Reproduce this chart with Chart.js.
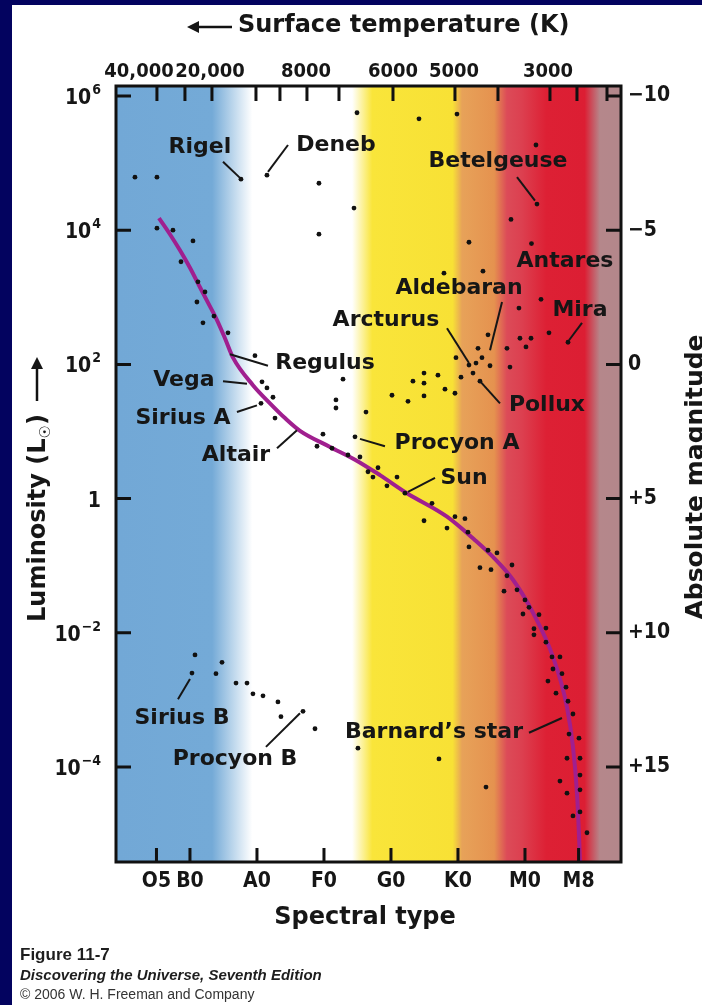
<!DOCTYPE html>
<html>
<head>
<meta charset="utf-8">
<script src="https://cdn.jsdelivr.net/npm/chart.js@4.4.1/dist/chart.umd.min.js"></script>
<style>
html, body { margin: 0; padding: 0; background: #03035f; }
canvas { display: block; }
</style>
</head>
<body>
<canvas id="hr" width="702" height="1005"></canvas>
<script>
// eje inferior: tipo espectral (0 = O0, 10 = B0, 20 = A0 ...)
const spectralTypes = ['O5', 'B0', 'A0', 'F0', 'G0', 'K0', 'M0', 'M8'];
const spectralPos = [5, 10, 20, 30, 40, 50, 60, 68];

// eje superior: temperatura superficial
const tempTickPos = [5.07, 9.25, 13.28, 19.85, 23.43, 27.46, 32.24, 40.3, 49.55, 55.97, 63.73, 67.76, 72.24];
const tempLabels = ['40,000', '20,000', '8000', '6000', '5000', '3000'];
const tempLabelPos = [2.39, 12.99, 27.31, 40.3, 49.4, 63.43];

// ejes verticales
const lumTicks = [6, 4, 2, 0, -2, -4];          // log10 L
const magTicks = [-10, -5, 0, 5, 10, 15];
const magLabels = ['\u221210', '\u22125', '0', '+5', '+10', '+15'];

// secuencia principal (tipo espectral, log L)
const msSpec = [5.37, 7.01, 8.51, 10, 11.49, 12.69, 14.03, 15.22, 16.42, 19.4, 21.94, 24.18, 26.42, 30.9, 34.63, 38.36, 42.39, 48.36, 52.54, 55.22, 58.21, 61.19, 64.18, 66.27, 67.16, 67.76, 68.13, 68.21];
const msLogL = [4.18, 3.94, 3.7, 3.44, 3.15, 2.92, 2.66, 2.39, 2.1, 1.69, 1.42, 1.2, 1.01, 0.77, 0.58, 0.35, 0.08, -0.27, -0.62, -0.87, -1.21, -1.7, -2.36, -3.11, -3.7, -4.39, -5.19, -5.42];

// estrellas (tipo espectral, log L)
const starSpec = [
  1.79, 5.07, 17.61, 21.49, 5.07, 7.46, 10.45, 8.66, 11.19, 12.24, 11.04, 13.58, 11.94, 15.67, 19.7,
  20.75, 21.49, 22.39, 20.6, 22.69,
  34.93, 44.18, 49.85, 29.25, 34.48, 29.25, 61.64, 61.79, 57.91, 51.64, 60.97, 47.91, 53.73,
  44.93, 47.01, 43.28, 44.93, 40.15, 42.54, 44.93, 48.06, 49.55, 50.45, 52.24, 53.28, 54.78, 57.76,
  51.64, 49.7, 52.69, 53.58, 54.48, 52.99, 57.31, 59.25, 60.9, 60.15, 63.58, 66.42, 59.1, 62.39,
  32.84, 31.79, 31.79, 36.27, 34.63, 29.85, 28.96, 31.19, 33.58, 35.37, 36.57, 38.06, 37.31, 40.9, 39.4, 42.09,
  46.12, 44.93, 48.36, 49.55, 51.04, 51.49, 51.64, 54.48, 55.82, 53.28, 54.93, 58.06, 57.31, 56.87, 58.81,
  60.0, 60.6, 59.7, 62.09, 61.34, 63.13, 61.34, 63.13, 64.03, 65.22, 64.18, 65.52, 63.43, 66.12, 64.63,
  66.42, 67.16, 66.57, 68.06, 66.27, 68.21, 68.21, 65.22, 66.27, 68.21, 68.21, 67.16, 69.25,
  10.75, 14.78, 10.3, 13.88, 16.87, 18.51, 19.4, 20.9, 23.13, 26.87, 23.58, 28.66, 35.07, 47.16, 54.18
];
const starLogL = [
  4.79, 4.79, 4.76, 4.82, 4.03, 4.0, 3.84, 3.53, 3.23, 3.08, 2.93, 2.72, 2.62, 2.47, 2.13,
  1.74, 1.65, 1.51, 1.42, 1.2,
  5.75, 5.66, 5.73, 4.7, 4.33, 3.94, 5.27, 4.39, 4.16, 3.82, 3.8, 3.36, 3.39,
  1.87, 1.84, 1.75, 1.72, 1.54, 1.45, 1.53, 1.63, 1.57, 1.81, 1.87, 1.75, 1.98, 1.96,
  1.99, 2.1, 2.02, 2.1, 2.44, 2.24, 2.24, 2.39, 2.39, 2.26, 2.47, 2.33, 2.84, 2.97,
  1.78, 1.47, 1.35, 1.29, 0.92, 0.96, 0.78, 0.75, 0.65, 0.62, 0.4, 0.46, 0.32, 0.32, 0.19, 0.08,
  -0.07, -0.33, -0.44, -0.27, -0.3, -0.5, -0.72, -0.77, -0.81, -1.03, -1.06, -0.99, -1.15, -1.38, -1.36,
  -1.51, -1.62, -1.72, -1.73, -1.94, -1.93, -2.03, -2.14, -2.36, -2.36, -2.54, -2.61, -2.72, -2.81, -2.9,
  -3.02, -3.21, -3.51, -3.57, -3.87, -3.87, -4.12, -4.21, -4.39, -4.34, -4.67, -4.73, -4.98,
  -2.33, -2.44, -2.6, -2.61, -2.75, -2.75, -2.91, -2.94, -3.03, -3.17, -3.25, -3.43, -3.72, -3.88, -4.3
];

// nombres de estrellas: texto, posicion de la etiqueta y linea guia (en unidades de los ejes)
const etiquetas = [
  { texto: 'Rigel', en: [11.49, 5.24], guia: [[14.93, 5.02], [17.46, 4.78]] },
  { texto: 'Deneb', en: [31.79, 5.27], guia: [[21.64, 4.87], [24.63, 5.27]] },
  { texto: 'Betelgeuse', en: [55.97, 5.02], guia: [[58.81, 4.79], [61.49, 4.44]] },
  { texto: 'Antares', en: [65.97, 3.53] },
  { texto: 'Aldebaran', en: [50.15, 3.14], guia: [[56.57, 2.93], [54.78, 2.21]] },
  { texto: 'Arcturus', en: [39.25, 2.66], guia: [[48.36, 2.54], [51.64, 2.02]] },
  { texto: 'Mira', en: [68.21, 2.81], guia: [[68.51, 2.62], [66.57, 2.36]] },
  { texto: 'Regulus', en: [30.15, 2.02], guia: [[15.97, 2.15], [21.64, 1.98]] },
  { texto: 'Vega', en: [9.1, 1.77], guia: [[14.93, 1.75], [18.51, 1.71]] },
  { texto: 'Sirius A', en: [8.96, 1.2], guia: [[17.01, 1.29], [20.0, 1.39]] },
  { texto: 'Altair', en: [16.87, 0.65], guia: [[22.99, 0.75], [25.97, 1.02]] },
  { texto: 'Pollux', en: [63.28, 1.39], guia: [[53.28, 1.75], [56.27, 1.42]] },
  { texto: 'Procyon A', en: [49.85, 0.83], guia: [[35.37, 0.89], [39.1, 0.78]] },
  { texto: 'Sun', en: [50.9, 0.31], guia: [[42.54, 0.1], [46.57, 0.31]] },
  { texto: 'Sirius B', en: [8.81, -3.27], guia: [[10.0, -2.69], [8.21, -2.99]] },
  { texto: 'Procyon B', en: [16.72, -3.88], guia: [[21.34, -3.7], [26.42, -3.2]] },
  { texto: 'Barnard\u2019s star', en: [46.42, -3.49], guia: [[60.6, -3.49], [65.52, -3.27]] }
];

const fuenteEje = '"DejaVu Sans Condensed", "Liberation Sans Narrow", sans-serif';
const fuenteTexto = '"DejaVu Sans", sans-serif';
const tinta = '#161616';

// fondo azul de la diapositiva + bandas de color por tipo espectral
const fondo = {
  id: 'fondo',
  beforeDraw(chart) {
    const { ctx, chartArea: a, scales: { x } } = chart;
    ctx.save();
    ctx.fillStyle = '#03035f';
    ctx.fillRect(0, 0, chart.width, chart.height);
    ctx.fillStyle = '#ffffff';
    ctx.fillRect(12, 5, chart.width - 12, chart.height - 5);

    const g = ctx.createLinearGradient(a.left, 0, a.right, 0);
    const parada = (s, c) => {
      const f = (x.getPixelForValue(s) - a.left) / (a.right - a.left);
      g.addColorStop(Math.min(1, Math.max(0, f)), c);
    };
    parada(-1.04, '#72a8d6');
    parada(13.3, '#74aad7');
    parada(19.3, '#ffffff');
    parada(34.2, '#ffffff');
    parada(37.2, '#f9e53a');
    parada(49.2, '#f8e135');
    parada(50.6, '#e7a259');
    parada(55.4, '#e5924f');
    parada(57.3, '#dc4b58');
    parada(59.5, '#dc4050');
    parada(63.2, '#dd2034');
    parada(68.9, '#dc1e33');
    parada(71.2, '#b5878b');
    parada(74.33, '#b3878b');
    ctx.fillStyle = g;
    ctx.fillRect(a.left, a.top, a.width, a.height);
    ctx.restore();
  }
};

// marco, marcas, rotulos, nombres y pie
const marco = {
  id: 'marco',
  afterDatasetsDraw(chart) {
    const { ctx, chartArea: a, scales: { x, y, y2 } } = chart;
    const P = (s, l) => [x.getPixelForValue(s), y.getPixelForValue(l)];
    ctx.save();

    // nombres y lineas guia
    ctx.strokeStyle = tinta;
    ctx.fillStyle = tinta;
    ctx.lineWidth = 2;
    ctx.font = 'bold 22px ' + fuenteTexto;
    ctx.textAlign = 'center';
    ctx.textBaseline = 'middle';
    etiquetas.forEach(e => {
      if (e.guia) {
        const p1 = P(...e.guia[0]), p2 = P(...e.guia[1]);
        ctx.beginPath();
        ctx.moveTo(p1[0], p1[1]);
        ctx.lineTo(p2[0], p2[1]);
        ctx.stroke();
      }
      const p = P(...e.en);
      ctx.fillText(e.texto, p[0], p[1]);
    });

    // marco
    ctx.strokeStyle = '#111';
    ctx.lineWidth = 3;
    ctx.strokeRect(a.left, a.top, a.width, a.height);

    // marcas hacia dentro
    ctx.beginPath();
    spectralPos.forEach(s => { const p = x.getPixelForValue(s); ctx.moveTo(p, a.bottom); ctx.lineTo(p, a.bottom - 14); });
    tempTickPos.forEach(s => { const p = x.getPixelForValue(s); ctx.moveTo(p, a.top); ctx.lineTo(p, a.top + 15); });
    lumTicks.forEach(l => { const p = y.getPixelForValue(l); ctx.moveTo(a.left, p); ctx.lineTo(a.left + 15, p); });
    magTicks.forEach(m => { const p = y2.getPixelForValue(m); ctx.moveTo(a.right, p); ctx.lineTo(a.right - 15, p); });
    ctx.stroke();

    // rotulos de los ejes
    ctx.fillStyle = tinta;
    ctx.textBaseline = 'middle';
    ctx.textAlign = 'center';
    ctx.font = 'bold 21px ' + fuenteEje;
    spectralTypes.forEach((t, i) => ctx.fillText(t, x.getPixelForValue(spectralPos[i]), a.bottom + 20));
    ctx.font = 'bold 20px ' + fuenteEje;
    tempLabels.forEach((t, i) => ctx.fillText(t, x.getPixelForValue(tempLabelPos[i]), 72));

    ctx.font = 'bold 21px ' + fuenteEje;
    ctx.textAlign = 'left';
    magLabels.forEach((t, i) => ctx.fillText(t, a.right + 7, y2.getPixelForValue(magTicks[i])));

    // 10^n a la izquierda
    const derecha = a.left - 15;
    lumTicks.forEach(l => {
      const py = y.getPixelForValue(l);
      ctx.textBaseline = 'alphabetic';
      ctx.textAlign = 'right';
      if (l === 0) {
        ctx.font = 'bold 21px ' + fuenteEje;
        ctx.fillText('1', derecha, py + 8);
        return;
      }
      const exp = l < 0 ? '\u2212' + Math.abs(l) : String(l);
      ctx.font = 'bold 14px ' + fuenteEje;
      const we = ctx.measureText(exp).width;
      ctx.fillText(exp, derecha, py - 2);
      ctx.font = 'bold 21px ' + fuenteEje;
      ctx.fillText('10', derecha - we - 1, py + 8);
    });

    // titulos
    ctx.font = 'bold 24px ' + fuenteTexto;
    ctx.textAlign = 'center';
    ctx.textBaseline = 'middle';
    ctx.fillText('Spectral type', 365, 918);

    const tituloSup = 'Surface temperature (K)';
    ctx.textAlign = 'left';
    ctx.fillText(tituloSup, 238, 26);
    ctx.lineWidth = 2.5;
    ctx.beginPath();
    ctx.moveTo(194, 27); ctx.lineTo(232, 27);
    ctx.stroke();
    ctx.beginPath();
    ctx.moveTo(187, 27); ctx.lineTo(199, 21); ctx.lineTo(199, 33); ctx.closePath();
    ctx.fill();

    // titulo izquierdo (girado)
    ctx.save();
    ctx.translate(45, 518);
    ctx.rotate(-Math.PI / 2);
    ctx.textBaseline = 'alphabetic';
    ctx.textAlign = 'left';
    const t1 = 'Luminosity (L', t2 = '\u2609', t3 = ')';
    ctx.font = 'bold 24px ' + fuenteTexto;
    const w1 = ctx.measureText(t1).width, w3 = ctx.measureText(t3).width;
    ctx.font = 'bold 15px ' + fuenteTexto;
    const w2 = ctx.measureText(t2).width;
    let cx = -(w1 + w2 + w3) / 2;
    ctx.font = 'bold 24px ' + fuenteTexto;
    ctx.fillText(t1, cx, 0); cx += w1;
    ctx.font = 'bold 15px ' + fuenteTexto;
    ctx.fillText(t2, cx, 5); cx += w2;
    ctx.font = 'bold 24px ' + fuenteTexto;
    ctx.fillText(t3, cx, 0);
    ctx.restore();
    // flecha hacia arriba
    ctx.lineWidth = 2.5;
    ctx.beginPath();
    ctx.moveTo(37, 401); ctx.lineTo(37, 366);
    ctx.stroke();
    ctx.beginPath();
    ctx.moveTo(37, 357); ctx.lineTo(31, 369); ctx.lineTo(43, 369); ctx.closePath();
    ctx.fill();

    // titulo derecho (girado, recortado por el borde)
    ctx.save();
    ctx.translate(703, 477);
    ctx.rotate(-Math.PI / 2);
    ctx.textAlign = 'center';
    ctx.textBaseline = 'alphabetic';
    ctx.font = 'bold 25px ' + fuenteTexto;
    ctx.fillText('Absolute magnitude', 0, 0);
    ctx.restore();

    // pie de figura
    ctx.textAlign = 'left';
    ctx.textBaseline = 'middle';
    ctx.fillStyle = '#1e1e1e';
    ctx.font = 'bold 17px "Liberation Sans", sans-serif';
    ctx.fillText('Figure 11-7', 20, 955);
    ctx.font = 'italic bold 15px "Liberation Sans", sans-serif';
    ctx.fillText('Discovering the Universe, Seventh Edition', 20, 976);
    ctx.font = '14px "Liberation Sans", sans-serif';
    ctx.fillStyle = '#333';
    ctx.fillText('\u00A9 2006 W. H. Freeman and Company', 20, 995);

    ctx.restore();
  }
};

new Chart(document.getElementById('hr'), {
  type: 'scatter',
  data: {
    datasets: [
      {
        label: 'Estrellas',
        data: starSpec.map((s, i) => ({ x: s, y: starLogL[i] })),
        pointRadius: 2.4,
        pointBackgroundColor: '#111',
        pointBorderWidth: 0,
        order: 0
      },
      {
        label: 'Secuencia principal',
        type: 'line',
        data: msSpec.map((s, i) => ({ x: s, y: msLogL[i] })),
        borderColor: '#a01f8f',
        borderWidth: 4,
        pointRadius: 0,
        fill: false,
        cubicInterpolationMode: 'monotone',
        order: 1
      }
    ]
  },
  options: {
    responsive: false,
    animation: false,
    devicePixelRatio: 1,
    events: [],
    layout: { padding: { left: 116, right: 81, top: 86, bottom: 143 } },
    scales: {
      x: { type: 'linear', min: -1.04, max: 74.33, display: false },
      y: { type: 'linear', min: -5.416, max: 6.149, display: false },
      y2: { type: 'linear', position: 'right', reverse: true, min: 5 - 2.5 * 6.149, max: 5 + 2.5 * 5.416, display: false }
    },
    plugins: { legend: { display: false }, tooltip: { enabled: false } }
  },
  plugins: [fondo, marco]
});
</script>
</body>
</html>
